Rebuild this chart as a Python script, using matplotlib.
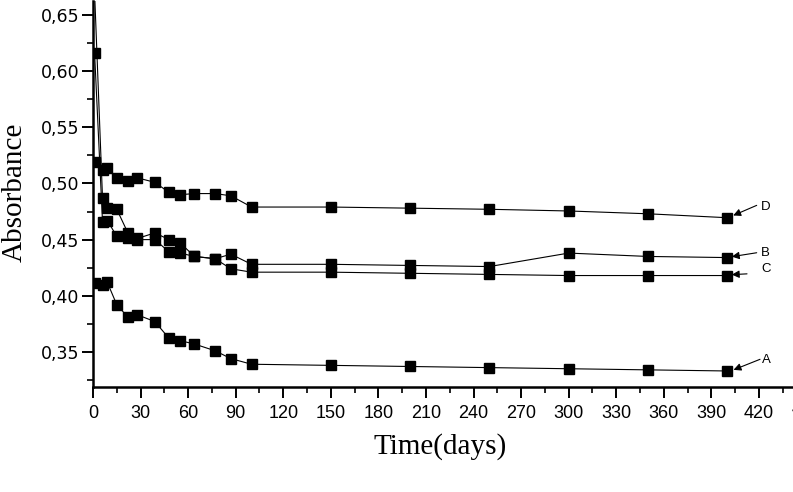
import matplotlib
matplotlib.use("Agg")
import matplotlib.pyplot as plt
from matplotlib.ticker import MultipleLocator, FuncFormatter

# ---- data ----
days = [1, 6, 9, 15, 22, 28, 39, 48, 55, 64, 77, 87, 100, 150, 200, 250, 300, 350, 400]
series_A = [0.411, 0.410, 0.412, 0.392, 0.381, 0.383, 0.377, 0.362, 0.360, 0.357,
            0.351, 0.344, 0.339, 0.338, 0.337, 0.336, 0.335, 0.334, 0.333]
series_B = [0.670, 0.487, 0.478, 0.477, 0.456, 0.451, 0.456, 0.450, 0.447, 0.435,
            0.433, 0.437, 0.428, 0.428, 0.427, 0.426, 0.438, 0.435, 0.434]
series_C = [0.616, 0.466, 0.467, 0.453, 0.451, 0.450, 0.450, 0.439, 0.438, 0.435,
            0.433, 0.424, 0.421, 0.421, 0.420, 0.419, 0.418, 0.418, 0.418]
series_D = [0.519, 0.512, 0.514, 0.505, 0.502, 0.505, 0.501, 0.492, 0.490, 0.491,
            0.491, 0.489, 0.479, 0.479, 0.478, 0.477, 0.4755, 0.473, 0.4695]
series_names = ["A", "B", "C", "D"]
x_ticks = list(range(0, 421, 30))
y_ticks = [0.35, 0.40, 0.45, 0.50, 0.55, 0.60, 0.65]

fig = plt.figure(figsize=(7.93, 4.92), dpi=100)
ax = fig.add_axes([93/793, 1 - 386.7/492, 1 - 93/793, (386.7 - 1)/492])

for vals in (series_A, series_B, series_C, series_D):
    ax.plot(days, vals, color="black", lw=0.8, marker="s", ms=7,
            mec="black", mfc="black", clip_on=True)

ax.set_xlim(0, 441.5)
ax.set_ylim(0.319, 0.6625)

for s in ("top", "right"):
    ax.spines[s].set_visible(False)
for s in ("left", "bottom"):
    ax.spines[s].set_linewidth(1.8)

ax.set_xticks(x_ticks)
ax.xaxis.set_minor_locator(MultipleLocator(15))
ax.set_yticks(y_ticks)
ax.yaxis.set_minor_locator(MultipleLocator(0.025))
ax.yaxis.set_major_formatter(FuncFormatter(lambda v, p: f"{v:.2f}".replace(".", ",")))

ax.tick_params(which="major", direction="out", length=8, width=1.4)
ax.tick_params(which="minor", direction="out", length=4, width=1.2)
ax.tick_params(axis="x", which="major", pad=5)
ax.tick_params(axis="y", which="major", pad=2)
for lab in ax.get_xticklabels():
    lab.set_fontfamily("Liberation Sans")
    lab.set_fontsize(13)
for lab in ax.get_yticklabels():
    lab.set_fontfamily("DejaVu Sans")
    lab.set_fontsize(12.5)

# partial tick label cut off at the right edge (as in the reference)
ax.text(450, -0.038, "450", transform=ax.get_xaxis_transform(), ha="center", va="top",
        fontsize=13, family="Liberation Sans", clip_on=False)

fig.text(440/793, 1 - 447/492, "Time(days)", ha="center", va="center",
         fontsize=21, family="Liberation Serif")
fig.text(15/793, 1 - 192/492, "Absorbance", ha="center", va="center", rotation=90,
         fontsize=21, family="Liberation Serif")

# arrow annotations
ann = [
    ("D", (403.8, 0.4715), (418.6, 0.4805), (421.5, 0.4790)),
    ("B", (402.9, 0.4348), (418.6, 0.4383), (421.5, 0.4380)),
    ("C", (402.9, 0.4188), (412.5, 0.4195), (421.5, 0.4235)),
    ("A", (404.0, 0.3340), (420.7, 0.3434), (422.0, 0.3425)),
]
for name, tip, tail, lpos in ann:
    ax.annotate("", xy=tip, xytext=tail,
                arrowprops=dict(arrowstyle="-|>", color="black", lw=0.8,
                                mutation_scale=11, shrinkA=0, shrinkB=0))
    ax.text(lpos[0], lpos[1], name, ha="left", va="center", fontsize=9.5,
            family="Liberation Sans", clip_on=False)

fig.savefig("out.png", dpi=100)
